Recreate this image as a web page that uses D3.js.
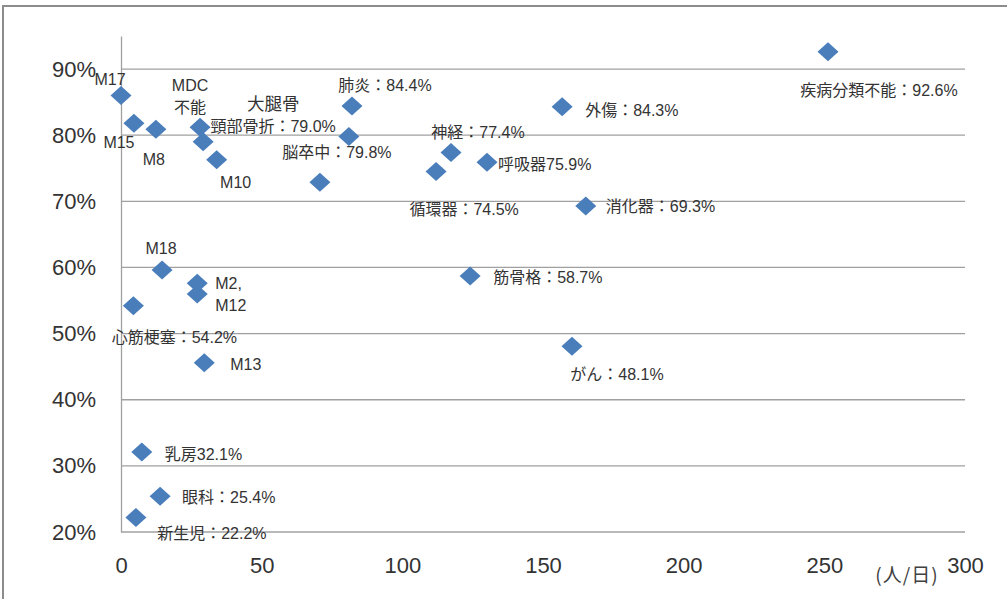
<!DOCTYPE html>
<html>
<head>
<meta charset="utf-8">
<script src="https://cdn.jsdelivr.net/npm/d3@7"></script>
<style>
  html, body { margin: 0; padding: 0; background: #fff; }
  svg { display: block; }
</style>
</head>
<body>
<svg id="chart" width="1007" height="599"></svg>
<script>
// Label text for each group ("\n" splits a label over two lines)
const names = [
  "M17", "M15", "M8", "MDC\n不能", "大腿骨\n頸部骨折", "M10", "",
  "脳卒中", "肺炎", "循環器", "神経", "呼吸器", "外傷", "消化器",
  "疾病分類不能", "筋骨格", "がん", "M18", "M2,", "M12", "心筋梗塞",
  "M13", "乳房", "眼科", "新生児"
];
// Separator between name and value; null means the label carries no value
const separators = [
  null, null, null, null, "：", null, null,
  "：", "：", "：", "：", "", "：", "：",
  "：", "：", "：", null, null, null, "：",
  null, "", "：", "："
];
// Patients per day (x)
const patientsPerDay = [
  0, 4.6, 12.4, 28.1, 29.2, 34.0, 70.7,
  81.0, 82.1, 112.0, 117.3, 130.1, 156.8, 165.2,
  251.3, 124.1, 160.3, 14.6, 27.1, 27.1, 4.4,
  29.6, 7.4, 13.9, 5.3
];
// Rate (y)
const rates = [
  0.860, 0.818, 0.809, 0.812, 0.790, 0.763, 0.729,
  0.798, 0.844, 0.745, 0.774, 0.759, 0.843, 0.693,
  0.926, 0.587, 0.481, 0.596, 0.576, 0.560, 0.542,
  0.456, 0.321, 0.254, 0.222
];
const xTicks = [0, 50, 100, 150, 200, 250, 300];
const yTicks = [0.2, 0.3, 0.4, 0.5, 0.6, 0.7, 0.8, 0.9];
const xUnit = "(人/日)";

// Label placement relative to each marker: [anchor, dx, dy]
const labelPlacement = [
  ["middle", -11, -17], ["middle", -15, 19], ["middle", -2, 30], ["middle", -10, -42],
  ["middle", 70, -38], ["middle", 19, 22], ["middle", 0, 0],
  ["middle", -12, 15], ["middle", 33, -21], ["middle", 28, 37], ["middle", 27, -20],
  ["start", 11, 2], ["start", 23, 3], ["start", 20, 0],
  ["middle", 51, 38], ["start", 23, 1], ["middle", 45, 28], ["middle", -1, -22],
  ["start", 18, 0], ["start", 18, 11], ["middle", 41, 31],
  ["start", 26, 1], ["start", 23, 2], ["start", 22, 1], ["middle", 76, 16]
];

const pct1 = d3.format(".1%");
const points = names.map((name, i) => ({
  name, sep: separators[i], x: patientsPerDay[i], y: rates[i], place: labelPlacement[i]
}));

const svg = d3.select("#chart");

// chart frame
svg.append("rect")
  .attr("x", 3).attr("y", 6).attr("width", 1040).attr("height", 640)
  .attr("fill", "#fff").attr("stroke", "#8c8c8c").attr("stroke-width", 2);

const x = d3.scaleLinear().domain([0, 300]).range([121, 965]);
const y = d3.scaleLinear().domain([0.2, 0.95]).range([532, 36]);

// horizontal gridlines
svg.append("g")
  .selectAll("line")
  .data(yTicks)
  .join("line")
  .attr("x1", x(0)).attr("x2", x(300))
  .attr("y1", d => y(d)).attr("y2", d => y(d))
  .attr("stroke", "#a0a0a0").attr("stroke-width", 1.3);

// y axis
const yAxis = svg.append("g")
  .attr("transform", `translate(${x(0)},0)`)
  .call(d3.axisLeft(y).tickValues(yTicks).tickFormat(d3.format(".0%")).tickSize(0).tickPadding(25));
yAxis.select(".domain").attr("stroke", "#a0a0a0").attr("stroke-width", 1.3);
yAxis.selectAll("text")
  .attr("font-family", "'Liberation Sans', Arial, sans-serif")
  .attr("font-size", 22).attr("fill", "#333");

// x axis
const xAxis = svg.append("g")
  .attr("transform", `translate(0,${y(0.2)})`)
  .call(d3.axisBottom(x).tickValues(xTicks).tickFormat(d3.format("d")).tickSize(0).tickPadding(25));
xAxis.select(".domain").remove();
xAxis.selectAll("text")
  .attr("font-family", "'Liberation Sans', Arial, sans-serif")
  .attr("font-size", 22).attr("fill", "#333");

svg.append("text")
  .attr("x", 907).attr("y", 573)
  .attr("text-anchor", "middle")
  .attr("dominant-baseline", "central")
  .attr("font-family", "'Noto Sans CJK JP', sans-serif")
  .attr("font-size", 19).attr("letter-spacing", 1).attr("fill", "#404040")
  .text(xUnit);

// markers
const diamond = "M0,-9.5L10.5,0L0,9.5L-10.5,0Z";
svg.append("g")
  .selectAll("path")
  .data(points)
  .join("path")
  .attr("d", diamond)
  .attr("transform", d => `translate(${x(d.x)},${y(d.y)})`)
  .attr("fill", "#4a7ebb");

// data labels
const labels = svg.append("g")
  .attr("font-family", "'Liberation Sans', 'Noto Sans CJK JP', sans-serif")
  .attr("font-size", 16)
  .attr("fill", "#333");

points.filter(d => d.name).forEach(d => {
  const lines = d.name.split("\n");
  if (d.sep !== null) lines[lines.length - 1] += d.sep + pct1(d.y);
  const [anchor, dx, dy] = d.place;
  const t = labels.append("text")
    .attr("text-anchor", anchor)
    .attr("dominant-baseline", "central");
  lines.forEach((ln, k) => {
    t.append("tspan")
      .attr("x", x(d.x) + dx)
      .attr("y", y(d.y) + dy + k * 22)
      .attr("font-size", d.name.startsWith("大腿骨") && k === 0 ? 17.5 : null)
      .text(ln);
  });
});
</script>
</body>
</html>
